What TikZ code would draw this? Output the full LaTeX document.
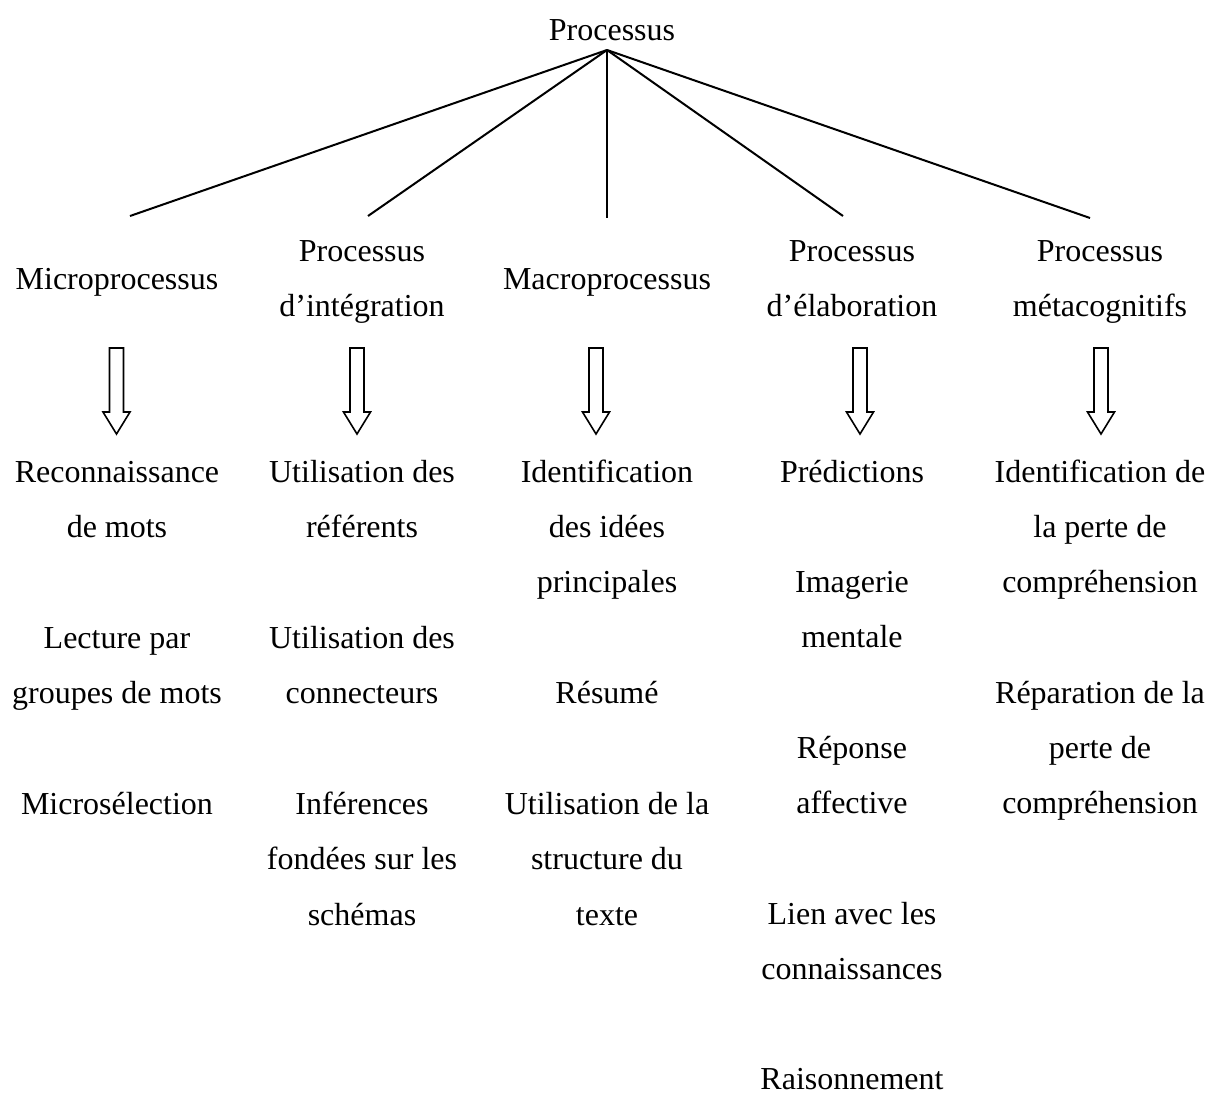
\documentclass[tikz,border=0pt]{standalone}
\usepackage{fontspec}
\setmainfont{Liberation Serif}
\begin{document}
\begin{tikzpicture}[x=1pt,y=-1pt,
  lbl/.style={anchor=base,inner sep=0pt,font=\fontsize{32}{55.3}\selectfont},
  conn/.style={line width=2pt},
  hollowarrow/.pic={\draw[line width=1.6pt,line join=miter] (-7,0) -- (7,0) -- (7,64) -- (13.5,64) -- (0,86) -- (-13.5,64) -- (-7,64) -- cycle;}]
\newcommand{\tl}[1]{\setlength{\tabcolsep}{0pt}\begin{tabular}[t]{c}#1\end{tabular}}
\useasboundingbox (0,0) rectangle (1208,1093);
% top
\node[lbl] (root) at (612,40) {Processus};
\coordinate (apex) at (607,50);
\coordinate (e1) at (130,216);
\coordinate (e2) at (368,216);
\coordinate (e3) at (607,218);
\coordinate (e4) at (843,216);
\coordinate (e5) at (1090,218);
\foreach \e in {e1,e2,e3,e4,e5} \draw[conn] (apex) -- (\e);
% headings
\node[lbl] (h1) at (117,289) {Microprocessus};
\node[lbl] (h2) at (362,261) {\tl{Processus\\d’intégration}};
\node[lbl] (h3) at (607,289) {Macroprocessus};
\node[lbl] (h4) at (852,261) {\tl{Processus\\d’élaboration}};
\node[lbl] (h5) at (1100,261) {\tl{Processus\\métacognitifs}};
% arrows
\pic at (116.5,348) {hollowarrow};
\pic at (357,348) {hollowarrow};
\pic at (596,348) {hollowarrow};
\pic at (860,348) {hollowarrow};
\pic at (1101,348) {hollowarrow};
% column 1
\node[lbl] (a1) at (117,482) {\tl{Reconnaissance\\de mots}};
\node[lbl] (a2) at (117,648.6) {\tl{Lecture par\\groupes de mots}};
\node[lbl] (a3) at (117,814.5) {Microsélection};
% column 2
\node[lbl] (b1) at (362,482) {\tl{Utilisation des\\référents}};
\node[lbl] (b2) at (362,648.6) {\tl{Utilisation des\\connecteurs}};
\node[lbl] (b3) at (362,814.5) {\tl{Inférences\\fondées sur les\\schémas}};
% column 3
\node[lbl] (c1) at (607,482) {\tl{Identification\\des idées\\principales}};
\node[lbl] (c2) at (607,703.2) {Résumé};
\node[lbl] (c3) at (607,814.5) {\tl{Utilisation de la\\structure du\\texte}};
% column 4
\node[lbl] (d1) at (852,482) {Prédictions};
\node[lbl] (d2) at (852,592.6) {\tl{Imagerie\\mentale}};
\node[lbl] (d3) at (852,758.5) {\tl{Réponse\\affective}};
\node[lbl] (d4) at (852,924.4) {\tl{Lien avec les\\connaissances}};
\node[lbl] (d5) at (852,1089.5) {Raisonnement};
% column 5
\node[lbl] (f1) at (1100,482) {\tl{Identification de\\la perte de\\compréhension}};
\node[lbl] (f2) at (1100,703.2) {\tl{Réparation de la\\perte de\\compréhension}};
\end{tikzpicture}
\end{document}
